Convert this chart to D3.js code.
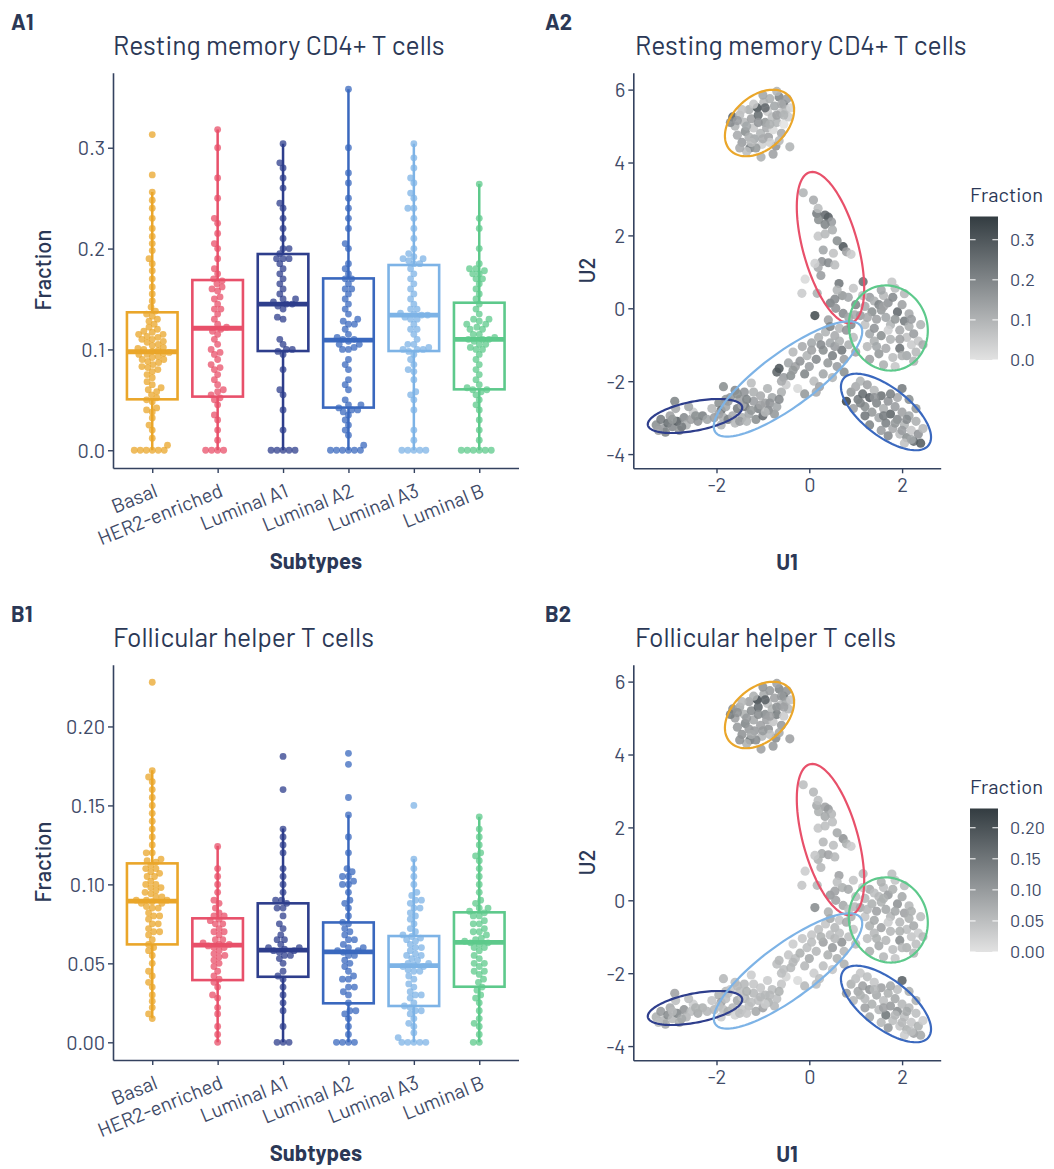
<!DOCTYPE html>
<html>
<head>
<meta charset="utf-8">
<script src="https://cdn.jsdelivr.net/npm/d3@7"></script>
<style>
  body { margin: 0; background: #ffffff; }
  svg text { font-family: 'Barlow', 'Roboto Condensed', 'Liberation Sans Narrow', 'Arial Narrow', 'DejaVu Sans Condensed', Roboto, sans-serif; }
</style>
</head>
<body>
<svg id="chart" width="1054" height="1169"></svg>
<script>
// ---------- categories and colours ----------
const subtypes = ["Basal", "HER2-enriched", "Luminal A1", "Luminal A2", "Luminal A3", "Luminal B"];
const subtypeColors = ["#EAA62A", "#E8506A", "#2E3E8C", "#3A68BE", "#7DB3E6", "#5DC98B"];

// ---------- box statistics: [lower whisker, Q1, median, Q3, upper whisker] ----------
const restingBoxStats = [
  [0, 0.0505, 0.0977, 0.1368, 0.256],
  [0, 0.0532, 0.1210, 0.1688, 0.318],
  [0, 0.0984, 0.1450, 0.1946, 0.304],
  [0, 0.0423, 0.1093, 0.1704, 0.358],
  [0, 0.0984, 0.1340, 0.1837, 0.304],
  [0, 0.0604, 0.1100, 0.1463, 0.264]
];
const tfhBoxStats = [
  [0.0152, 0.0620, 0.0894, 0.1133, 0.1723],
  [0, 0.0394, 0.0616, 0.0785, 0.1244],
  [0, 0.0415, 0.0584, 0.0880, 0.1354],
  [0, 0.0247, 0.0573, 0.0759, 0.1439],
  [0, 0.0230, 0.0485, 0.0673, 0.1160],
  [0, 0.0352, 0.0633, 0.0823, 0.1428]
];

// ---------- per-sample fractions: resting memory CD4+ T cells ----------
const restingBasal = [0,0,0,0,0,0,0.005,0.012,0.02,0.025,0.032,0.038,0.04,0.042,0.048,0.05,0.052,0.055,0.058,0.06,0.062,0.065,0.068,0.072,0.075,0.078,0.08,0.082,0.083,0.085,0.087,0.088,0.09,0.09,0.092,0.093,0.095,0.095,0.096,0.097,0.098,0.099,0.1,0.101,0.102,0.104,0.105,0.107,0.108,0.11,0.11,0.112,0.113,0.115,0.115,0.117,0.118,0.12,0.122,0.125,0.128,0.13,0.133,0.135,0.138,0.142,0.148,0.155,0.162,0.17,0.178,0.185,0.19,0.198,0.205,0.212,0.22,0.23,0.24,0.248,0.256,0.273,0.313];
const restingHER2 = [0,0,0,0,0.01,0.02,0.03,0.035,0.045,0.05,0.052,0.055,0.058,0.06,0.065,0.07,0.075,0.08,0.082,0.085,0.09,0.095,0.097,0.1,0.105,0.11,0.115,0.118,0.12,0.122,0.125,0.13,0.135,0.14,0.14,0.145,0.15,0.152,0.158,0.16,0.162,0.165,0.168,0.17,0.175,0.18,0.19,0.2,0.205,0.215,0.225,0.23,0.25,0.27,0.3,0.318];
const restingLumA1 = [0,0,0,0,0,0.02,0.04,0.055,0.06,0.08,0.095,0.098,0.1,0.1,0.105,0.11,0.13,0.132,0.14,0.143,0.145,0.145,0.147,0.15,0.15,0.155,0.16,0.165,0.17,0.175,0.18,0.185,0.19,0.19,0.19,0.195,0.2,0.2,0.21,0.22,0.23,0.24,0.245,0.26,0.27,0.28,0.285,0.304];
const restingLumA2 = [0,0,0,0,0,0,0.005,0.015,0.02,0.025,0.03,0.035,0.038,0.04,0.04,0.042,0.045,0.045,0.05,0.06,0.065,0.07,0.08,0.085,0.09,0.1,0.1,0.102,0.105,0.105,0.108,0.11,0.11,0.112,0.115,0.12,0.125,0.125,0.128,0.13,0.135,0.14,0.145,0.15,0.155,0.16,0.16,0.165,0.17,0.17,0.175,0.18,0.185,0.2,0.205,0.22,0.23,0.24,0.25,0.265,0.275,0.3,0.358];
const restingLumA3 = [0,0,0,0,0,0.01,0.02,0.04,0.05,0.055,0.058,0.07,0.078,0.08,0.085,0.09,0.095,0.098,0.1,0.1,0.1,0.102,0.105,0.105,0.11,0.115,0.12,0.12,0.125,0.13,0.13,0.132,0.134,0.134,0.135,0.136,0.14,0.14,0.145,0.15,0.155,0.16,0.165,0.17,0.175,0.18,0.185,0.185,0.188,0.19,0.19,0.192,0.195,0.2,0.21,0.22,0.23,0.24,0.24,0.25,0.255,0.265,0.27,0.28,0.29,0.304];
const restingLumB = [0,0,0,0,0,0,0.01,0.02,0.03,0.04,0.045,0.05,0.055,0.058,0.06,0.06,0.062,0.065,0.07,0.075,0.08,0.085,0.09,0.095,0.1,0.1,0.102,0.105,0.105,0.108,0.11,0.11,0.11,0.112,0.115,0.115,0.12,0.12,0.122,0.125,0.125,0.128,0.13,0.13,0.135,0.14,0.145,0.15,0.155,0.16,0.165,0.17,0.17,0.175,0.175,0.178,0.18,0.18,0.185,0.2,0.22,0.23,0.264];

// ---------- per-sample fractions: follicular helper T cells ----------
const tfhBasal = [0.015,0.018,0.022,0.026,0.03,0.035,0.038,0.042,0.045,0.05,0.055,0.058,0.06,0.062,0.065,0.068,0.07,0.07,0.072,0.075,0.075,0.078,0.08,0.08,0.082,0.085,0.085,0.086,0.088,0.088,0.089,0.09,0.09,0.09,0.092,0.092,0.094,0.095,0.096,0.098,0.098,0.1,0.1,0.102,0.105,0.105,0.107,0.108,0.11,0.11,0.112,0.114,0.115,0.116,0.12,0.12,0.125,0.13,0.135,0.14,0.145,0.15,0.155,0.16,0.165,0.168,0.172,0.228];
const tfhHER2 = [0,0.005,0.01,0.018,0.022,0.028,0.03,0.035,0.038,0.04,0.042,0.045,0.048,0.05,0.052,0.054,0.055,0.056,0.058,0.06,0.06,0.061,0.062,0.062,0.063,0.065,0.065,0.068,0.07,0.07,0.072,0.075,0.075,0.077,0.078,0.08,0.08,0.082,0.085,0.088,0.09,0.095,0.1,0.105,0.11,0.124];
const tfhLumA1 = [0,0,0,0.01,0.02,0.025,0.03,0.035,0.04,0.042,0.045,0.05,0.053,0.055,0.055,0.057,0.058,0.058,0.059,0.06,0.06,0.062,0.065,0.065,0.068,0.072,0.075,0.08,0.085,0.085,0.088,0.09,0.09,0.095,0.1,0.105,0.11,0.12,0.125,0.13,0.135,0.16,0.181];
const tfhLumA2 = [0,0,0,0,0.005,0.01,0.015,0.018,0.02,0.02,0.025,0.03,0.032,0.035,0.035,0.04,0.04,0.042,0.045,0.048,0.05,0.052,0.055,0.055,0.057,0.058,0.058,0.06,0.06,0.062,0.065,0.065,0.068,0.07,0.072,0.075,0.076,0.08,0.085,0.088,0.09,0.095,0.1,0.1,0.102,0.105,0.105,0.108,0.11,0.12,0.13,0.144,0.155,0.176,0.183];
const tfhLumA3 = [0,0,0,0,0,0.003,0.006,0.01,0.012,0.015,0.018,0.02,0.02,0.022,0.023,0.025,0.028,0.03,0.03,0.032,0.035,0.037,0.04,0.042,0.045,0.045,0.046,0.048,0.048,0.049,0.05,0.05,0.052,0.053,0.055,0.055,0.056,0.058,0.06,0.06,0.062,0.064,0.065,0.066,0.067,0.068,0.07,0.072,0.075,0.078,0.08,0.082,0.085,0.085,0.088,0.09,0.09,0.093,0.095,0.1,0.105,0.11,0.116,0.15];
const tfhLumB = [0,0,0.005,0.01,0.012,0.015,0.02,0.025,0.028,0.03,0.033,0.035,0.038,0.04,0.043,0.045,0.045,0.048,0.05,0.05,0.053,0.055,0.058,0.06,0.06,0.062,0.063,0.063,0.064,0.065,0.066,0.068,0.07,0.07,0.072,0.075,0.075,0.077,0.08,0.08,0.082,0.083,0.085,0.085,0.088,0.09,0.095,0.1,0.105,0.11,0.115,0.118,0.12,0.125,0.13,0.135,0.1428];

// ---------- UMAP embedding: [U1, U2, resting CD4 fraction, Tfh fraction] ----------
const umapBasal = [[-1.65,5.25,.28,.12],[-1.6,5.0,.10,.09],[-1.55,4.75,.12,.10],[-1.5,5.3,.08,.08],[-1.45,4.55,.15,.11],[-1.4,5.1,.09,.07],[-1.38,4.85,.18,.13],[-1.3,5.45,.11,.09],[-1.28,4.4,.22,.15],[-1.25,5.2,.14,.12],[-1.2,4.95,.06,.08],[-1.18,4.65,.13,.10],[-1.12,5.5,.31,.21],[-1.1,5.3,.25,.17],[-1.05,4.8,.10,.09],[-1.02,4.5,.04,.06],[-0.98,5.65,.09,.08],[-0.95,5.1,.16,.12],[-0.92,4.95,.12,.09],[-0.9,5.4,.05,.05],[-0.88,4.7,.14,.11],[-0.85,5.75,.11,.10],[-0.8,5.25,.08,.07],[-0.78,4.9,.02,.04],[-0.75,5.55,.13,.09],[-0.72,4.45,.17,.12],[-0.7,5.1,.10,.14],[-0.65,5.8,.20,.13],[-0.62,5.35,.07,.06],[-0.6,4.8,.12,.10],[-0.55,5.6,.23,.16],[-0.55,5.05,.0,.03],[-0.5,5.45,.09,.08],[-0.48,5.75,.15,.11],[-0.45,5.25,.05,.06],[-0.42,4.43,.10,.09],[-0.78,4.23,.14,.10],[-1.04,4.15,.11,.09],[-1.35,4.3,.08,.07],[-1.5,4.4,.12,.11],[-1.7,5.1,.19,.14],[-1.2,5.6,.06,.07],[-1.0,5.85,.13,.11],[-0.7,5.95,.10,.09],[-0.85,4.55,.04,.05],[-1.15,4.4,.16,.12],[-0.65,4.6,.09,.08],[-1.3,4.7,.11,.10],[-0.4,5.5,.03,.04],[-0.95,5.5,.26,.18],[-1.45,5.45,.07,.06],[-0.6,5.6,.12,.10],[-1.35,5.0,.13,.10],[-1.1,5.1,.17,.12],[-0.85,5.05,.11,.09],[-0.7,5.3,.14,.11],[-1.0,4.65,.12,.10],[-1.25,4.55,.09,.08],[-0.55,5.3,.10,.09],[-1.55,5.15,.15,.11]];
const umapHER2 = [[-0.13,3.17,.10,.05],[0.09,2.97,.12,.06],[0.16,2.6,.22,.08],[0.19,2.74,.08,.05],[0.34,2.56,.26,.09],[0.41,2.5,.28,.10],[0.2,2.43,.18,.07],[0.48,2.37,.15,.06],[0.34,2.3,.20,.08],[0.19,1.98,.06,.04],[0.34,2.04,.09,.05],[0.73,1.69,.30,.11],[0.8,1.55,.14,.07],[0.9,1.48,.05,.03],[0.52,1.51,.07,.05],[0.27,1.28,.17,.08],[0.41,1.25,.19,.09],[0.55,1.19,.08,.06],[0.19,1.12,.12,.07],[0.12,1.23,.04,.04],[-0.09,0.8,.02,.03],[0.64,0.68,.23,.09],[1.16,0.73,.25,.06],[-0.16,0.41,.05,.04],[0.17,0.41,.11,.06],[0.71,0.35,.16,.07],[0.84,0.3,.13,.08],[0.45,0.14,.21,.10],[0.57,0.0,.17,.09],[0.73,-0.14,.19,.08],[0.98,-0.18,.12,.06],[0.12,-0.2,.32,.12],[0.41,-0.32,.14,.07],[0.6,0.5,.10,.05],[0.95,0.55,.06,.04],[0.3,1.6,.13,.06],[0.6,1.85,.18,.08],[0.5,2.15,.11,.05],[0.25,0.9,.15,.06],[0.55,0.25,.19,.09]];
const umapLumA1 = [[-3.3,-3.2,.18,.07],[-3.2,-3.05,.22,.10],[-3.15,-3.3,.15,.06],[-3.05,-3.15,.25,.12],[-3.0,-2.95,.14,.08],[-2.95,-3.25,.19,.06],[-2.9,-2.55,.20,.09],[-2.88,-2.75,.12,.05],[-2.85,-3.1,.28,.13],[-2.8,-3.35,.16,.07],[-2.7,-3.0,.19,.11],[-2.65,-3.2,.10,.06],[-2.55,-3.05,.14,.05],[-2.5,-2.85,.05,.03],[-2.4,-3.1,.17,.08],[-2.3,-2.95,.21,.07],[-2.2,-3.05,.13,.06],[-2.1,-2.75,.09,.04],[-2.05,-3.0,.15,.06],[-1.95,-2.6,.18,.07],[-1.9,-2.8,.24,.09],[-1.85,-3.0,.11,.05],[-1.8,-2.5,.16,.06],[-2.6,-2.7,.13,.05],[-3.1,-3.4,.20,.08],[-2.75,-3.25,.22,.08],[-2.45,-2.95,.18,.07],[-2.95,-3.05,.16,.06],[-3.25,-3.35,.14,.05]];
const umapLumA2 = [[0.8,-2.55,.34,.10],[0.9,-2.3,.16,.07],[1.0,-2.15,.12,.05],[1.05,-2.5,.22,.08],[1.1,-2.0,.10,.04],[1.15,-2.35,.25,.09],[1.2,-2.7,.18,.06],[1.25,-2.1,.14,.05],[1.3,-2.45,.28,.11],[1.35,-2.85,.16,.07],[1.4,-2.25,.09,.04],[1.45,-2.6,.20,.08],[1.5,-3.0,.13,.06],[1.55,-2.4,.24,.09],[1.6,-2.75,.11,.05],[1.65,-3.15,.21,.15],[1.7,-2.55,.17,.07],[1.75,-2.9,.27,.10],[1.8,-3.3,.12,.05],[1.85,-2.7,.15,.08],[1.9,-3.05,.19,.12],[1.95,-3.45,.08,.04],[2.0,-2.2,.22,.18],[2.0,-2.85,.14,.06],[2.05,-3.2,.10,.05],[2.1,-3.55,.18,.07],[2.15,-2.95,.13,.06],[2.2,-3.35,.06,.04],[2.25,-3.65,.25,.09],[2.3,-3.1,.11,.05],[2.35,-3.45,.17,.07],[2.4,-3.7,.29,.08],[2.45,-3.3,.09,.03],[1.3,-3.2,.20,.08],[1.55,-3.35,.15,.06],[1.9,-2.45,.12,.05],[2.15,-2.5,.18,.07],[1.2,-2.95,.23,.09],[0.95,-2.75,.14,.06],[1.7,-3.5,.19,.10],[2.05,-3.7,.07,.03],[2.3,-2.75,.16,.07],[1.1,-2.6,.20,.07],[1.4,-2.45,.17,.06],[1.6,-2.95,.22,.09],[1.85,-3.15,.16,.06],[2.1,-3.05,.19,.08],[2.2,-3.6,.13,.05],[1.75,-2.35,.21,.08],[2.0,-3.35,.15,.06]];
const umapLumA3 = [[-1.95,-2.9,.14,.05],[-1.9,-3.2,.10,.03],[-1.85,-2.15,.18,.06],[-1.8,-2.7,.13,.05],[-1.75,-3.05,.20,.07],[-1.7,-2.45,.16,.04],[-1.65,-2.95,.12,.06],[-1.6,-2.25,.19,.05],[-1.6,-3.15,.09,.02],[-1.55,-2.75,.22,.08],[-1.5,-2.5,.14,.05],[-1.45,-3.0,.11,.04],[-1.4,-2.3,.17,.06],[-1.38,-2.7,.24,.07],[-1.3,-2.9,.13,.05],[-1.25,-2.05,.08,.03],[-1.2,-2.55,.15,.06],[-1.15,-3.05,.18,.08],[-1.1,-2.75,.21,.05],[-1.05,-2.4,.12,.04],[-1.0,-2.95,.26,.09],[-0.95,-2.6,.14,.06],[-0.9,-2.2,.10,.03],[-0.88,-2.8,.19,.07],[-0.8,-2.45,.13,.05],[-0.75,-2.9,.16,.06],[-0.7,-1.75,.27,.05],[-0.65,-1.65,.30,.06],[-0.6,-2.3,.11,.04],[-0.55,-1.9,.15,.05],[-0.5,-2.1,.05,.02],[-0.45,-1.5,.13,.04],[-0.4,-1.85,.18,.06],[-0.35,-1.2,.09,.03],[-0.3,-1.6,.14,.05],[-0.25,-2.2,.02,.01],[-0.2,-1.45,.17,.07],[-0.15,-1.05,.12,.04],[-0.1,-1.8,.20,.06],[-0.05,-1.3,.10,.05],[0.0,-1.6,.15,.08],[0.05,-0.95,.13,.04],[0.1,-2.0,.08,.03],[0.15,-1.4,.19,.06],[0.2,-0.8,.11,.05],[0.22,-2.15,.14,.05],[0.3,-1.15,.18,.09],[0.35,-0.65,.10,.04],[0.4,-1.5,.16,.07],[0.45,-0.95,.13,.05],[0.5,-1.3,.21,.10],[0.55,-0.75,.12,.06],[0.6,-1.6,.15,.07],[0.65,-0.55,.09,.04],[0.7,-1.15,.23,.11],[0.75,-1.4,.14,.06],[0.8,-0.6,.17,.08],[0.85,-1.0,.11,.05],[0.9,-0.45,.19,.07],[0.95,-0.8,.08,.04],[0.3,-1.8,.13,.05],[-0.1,-2.35,.16,.06],[0.5,-1.9,.10,.04],[0.15,-2.3,.12,.05],[0.75,-1.75,.18,.07],[1.0,-1.2,.14,.06],[-1.75,-2.55,.15,.05],[-1.55,-2.35,.18,.06],[-1.45,-2.65,.12,.04],[-1.35,-2.5,.20,.07],[-1.25,-2.8,.16,.05],[-1.2,-2.3,.11,.04],[-1.05,-2.65,.14,.06],[-0.95,-2.85,.09,.03],[-0.85,-2.6,.17,.06],[-0.7,-2.7,.13,.05],[-0.65,-2.5,.19,.07],[-1.5,-3.1,.15,.05],[-1.35,-3.1,.10,.04],[-0.6,-2.0,.12,.05],[-0.35,-1.7,.16,.06],[0.05,-1.15,.14,.05],[0.25,-1.0,.19,.07],[0.55,-1.05,.15,.06],[0.65,-0.9,.11,.05],[0.45,-0.5,.20,.08],[0.85,-0.25,.13,.05]];
const umapLumB = [[1.2,0.05,.12,.06],[1.3,0.3,.15,.08],[1.35,-0.1,.18,.07],[1.4,0.2,.11,.05],[1.45,-0.3,.14,.09],[1.5,0.1,.20,.06],[1.55,-0.05,.16,.07],[1.6,0.35,.09,.05],[1.65,-0.25,.13,.08],[1.7,0.15,.17,.10],[1.75,-0.45,.10,.06],[1.8,0.3,.19,.07],[1.85,0.55,.08,.04],[1.9,-0.1,.26,.11],[1.95,-0.6,.12,.06],[2.0,0.1,.14,.08],[2.05,-0.35,.22,.09],[2.1,-0.8,.07,.05],[2.15,-0.5,.11,.07],[2.2,-1.0,.05,.04],[2.25,-0.7,.15,.08],[2.3,-1.2,.09,.05],[2.35,-0.9,.06,.03],[2.25,-1.45,.10,.06],[2.1,-1.3,.13,.07],[1.95,-1.1,.24,.12],[1.8,-1.35,.08,.05],[1.65,-1.1,.12,.06],[1.5,-1.25,.16,.08],[1.4,-0.9,.11,.06],[1.3,-0.7,.13,.07],[1.2,-0.45,.07,.04],[1.1,-0.2,.15,.08],[1.25,-1.05,.09,.05],[1.55,-0.75,.18,.09],[1.75,-0.85,.10,.06],[1.95,-0.85,.14,.07],[1.85,-1.6,.06,.04],[1.6,-1.55,.11,.06],[2.05,0.4,.09,.05],[1.55,0.5,.13,.07],[1.4,-0.55,.17,.08],[1.7,-0.6,.04,.03],[2.15,-0.15,.12,.06],[1.0,0.1,.20,.05],[1.15,0.35,.08,.04],[1.3,-1.4,.14,.07],[2.4,-0.45,.10,.05],[1.78,0.72,.06,.05],[2.45,-1.0,.12,.06],[1.6,0.05,.14,.07],[1.85,-0.3,.16,.08],[2.0,-1.3,.11,.06],[1.45,-1.05,.13,.07],[2.2,-0.3,.15,.07],[1.25,-0.25,.12,.06]];

// ---------- 95% ellipses per subtype: centre and two conjugate semi-axes (data units) ----------
const ellipseCenters = [[-1.073,5.084],[0.457,1.668],[-2.463,-2.955],[1.653,-2.845],[-0.459,-1.940],[1.703,-0.540]];
const ellipseMajorAxes = [[0.640,0.735],[0.449,-2.063],[1.016,0.252],[0.917,-0.913],[1.562,1.465],[0.317,-1.109]];
const ellipseMinorAxes = [[0.382,-0.540],[-0.571,-0.202],[0.060,-0.393],[-0.319,-0.519],[0.345,-0.596],[-0.790,-0.366]];

// ---------- tick labels ----------
const restingTicks = [0, 0.1, 0.2, 0.3];
const tfhTicks = [0, 0.05, 0.10, 0.15, 0.20];
const umapXTicks = [-2, 0, 2];
const umapYTicks = [-4, -2, 0, 2, 4, 6];

// ---------- styling ----------
const INK = "#2b3856";
const TICK_INK = "#3f4b68";
const AXIS = "#34425f";
const SHADE_LOW = "#e2e2e2", SHADE_HIGH = "#333c41";

const svg = d3.select("#chart");

function styleAxis(g) {
  g.select(".domain").attr("stroke", AXIS).attr("stroke-width", 1.6);
  g.selectAll(".tick line").attr("stroke", AXIS).attr("stroke-width", 1.4);
  g.selectAll(".tick text").attr("fill", TICK_INK).style("font-size", "20px");
}

// simple swarm layout: each value takes the free horizontal slot nearest the centre
function beeswarm(values, y, D) {
  const items = values.map(v => ({ v, py: y(v), dx: 0 })).sort((a, b) => a.v - b.v);
  const placed = [];
  for (const it of items) {
    const near = placed.filter(p => Math.abs(p.py - it.py) < D);
    const cands = [0];
    for (const p of near) {
      const w = Math.sqrt(D * D - (p.py - it.py) ** 2);
      cands.push(p.dx - w, p.dx + w);
    }
    cands.sort((a, b) => Math.abs(a) - Math.abs(b) || a - b);
    for (const c of cands) {
      if (near.every(p => (p.dx - c) ** 2 + (p.py - it.py) ** 2 >= D * D - 0.01)) { it.dx = c; break; }
    }
    placed.push(it);
  }
  return items;
}

function drawBoxPanel(g, cfg) {
  const x = d3.scalePoint().domain(subtypes).range([113, 518.5]).padding(0.6);
  const y = d3.scaleLinear().domain(cfg.yDomain).range([468, 72.7]);

  const gy = g.append("g").attr("transform", "translate(113,0)")
    .call(d3.axisLeft(y).tickValues(cfg.ticks).tickFormat(cfg.fmt).tickSize(5).tickSizeOuter(0).tickPadding(3));
  styleAxis(gy);
  gy.selectAll(".tick text").attr("dy", "0.36em");

  const gx = g.append("g").attr("transform", "translate(0,468)")
    .call(d3.axisBottom(x).tickSize(5).tickSizeOuter(0));
  styleAxis(gx);
  gx.selectAll(".tick text")
    .attr("x", 0).attr("y", 0).attr("dy", 0)
    .attr("text-anchor", "end")
    .attr("transform", "translate(6,28) rotate(-22)");

  const halfW = 25.3;
  subtypes.forEach((s, i) => {
    const cx = x(s), st = cfg.stats[i], col = subtypeColors[i];
    const bg = g.append("g");
    bg.append("line").attr("x1", cx).attr("x2", cx).attr("y1", y(st[0])).attr("y2", y(st[4]))
      .attr("stroke", col).attr("stroke-width", 2.5);
    bg.append("rect").attr("x", cx - halfW).attr("width", 2 * halfW)
      .attr("y", y(st[3])).attr("height", y(st[1]) - y(st[3]))
      .attr("fill", "#fff").attr("stroke", col).attr("stroke-width", 2.6);
    bg.append("line").attr("x1", cx - halfW).attr("x2", cx + halfW).attr("y1", y(st[2])).attr("y2", y(st[2]))
      .attr("stroke", col).attr("stroke-width", 4.8);
    const pts = beeswarm(cfg.values[i], y, 6);
    bg.selectAll("circle").data(pts).join("circle")
      .attr("cx", d => cx + d.dx).attr("cy", d => d.py).attr("r", 3.4)
      .attr("fill", col).attr("fill-opacity", 0.75);
  });

  g.append("text").attr("x", 113).attr("y", 55).attr("fill", INK)
    .style("font-size", "26.5px").text(cfg.title);
  g.append("text").attr("transform", "translate(43,270) rotate(-90)").attr("text-anchor", "middle")
    .attr("dy", "0.35em").attr("fill", INK).style("font-size", "22px").style("font-weight", 500).text("Fraction");
  g.append("text").attr("x", 315.8).attr("y", 569).attr("text-anchor", "middle")
    .attr("fill", INK).style("font-size", "22px").style("font-weight", 700).text("Subtypes");
  g.append("text").attr("x", 11).attr("y", 30).attr("fill", INK)
    .style("font-size", "22px").style("font-weight", 700).text(cfg.tag);
}

function drawUmapPanel(g, cfg) {
  const x = d3.scaleLinear().domain([-3.793, 2.832]).range([633.3, 940.7]);
  const y = d3.scaleLinear().domain([-4.39, 6.464]).range([468.3, 72.7]);
  const shade = d3.scaleLinear().domain([0, cfg.max]).range([SHADE_LOW, SHADE_HIGH]).clamp(true);

  const gy = g.append("g").attr("transform", "translate(633.3,0)")
    .call(d3.axisLeft(y).tickValues(umapYTicks).tickFormat(d => String(d)).tickSize(5).tickSizeOuter(0).tickPadding(3));
  styleAxis(gy);
  gy.selectAll(".tick text").attr("dy", "0.36em");
  const gx = g.append("g").attr("transform", "translate(0,468.3)")
    .call(d3.axisBottom(x).tickValues(umapXTicks).tickFormat(d => String(d)).tickSize(5).tickSizeOuter(0).tickPadding(5));
  styleAxis(gx);

  const clusters = [umapBasal, umapHER2, umapLumA1, umapLumA2, umapLumA3, umapLumB];
  const all = clusters.flat();
  g.append("g").selectAll("circle").data(all).join("circle")
    .attr("cx", d => x(d[0])).attr("cy", d => y(d[1])).attr("r", 4.6)
    .attr("fill", d => shade(d[cfg.col])).attr("fill-opacity", 0.88);

  const line = d3.line().curve(d3.curveLinearClosed);
  const ts = d3.range(0, 2 * Math.PI, Math.PI / 60);
  subtypes.forEach((s, i) => {
    const c = ellipseCenters[i], a = ellipseMajorAxes[i], b = ellipseMinorAxes[i];
    const pts = ts.map(t => [x(c[0] + a[0] * Math.cos(t) + b[0] * Math.sin(t)),
                             y(c[1] + a[1] * Math.cos(t) + b[1] * Math.sin(t))]);
    g.append("path").attr("d", line(pts)).attr("fill", "none")
      .attr("stroke", subtypeColors[i]).attr("stroke-width", 2.2);
  });

  // colour bar legend
  const gradId = "grad" + cfg.tag;
  const lg = svg.select("defs").append("linearGradient").attr("id", gradId)
    .attr("x1", 0).attr("y1", 1).attr("x2", 0).attr("y2", 0);
  lg.append("stop").attr("offset", "0%").attr("stop-color", SHADE_LOW);
  lg.append("stop").attr("offset", "100%").attr("stop-color", SHADE_HIGH);
  const barTop = 216.5, barBot = 360, barX = 970, barW = 28;
  const ly = d3.scaleLinear().domain([0, cfg.max]).range([barBot, barTop]);
  g.append("rect").attr("x", barX).attr("y", barTop).attr("width", barW).attr("height", barBot - barTop)
    .attr("fill", `url(#${gradId})`);
  cfg.legendTicks.forEach(v => {
    g.append("line").attr("x1", barX).attr("x2", barX + 5.6).attr("y1", ly(v)).attr("y2", ly(v))
      .attr("stroke", "#fff").attr("stroke-width", 1);
    g.append("line").attr("x1", barX + barW - 5.6).attr("x2", barX + barW).attr("y1", ly(v)).attr("y2", ly(v))
      .attr("stroke", "#fff").attr("stroke-width", 1);
    g.append("text").attr("x", 1010).attr("y", ly(v)).attr("dy", "0.36em").attr("fill", TICK_INK)
      .style("font-size", "18px").text(cfg.legendFmt(v));
  });
  g.append("text").attr("x", 970).attr("y", 201.5).attr("fill", INK).style("font-size", "20px").text("Fraction");

  g.append("text").attr("x", 635).attr("y", 55).attr("fill", INK).style("font-size", "26.5px").text(cfg.title);
  g.append("text").attr("transform", "translate(587,270.5) rotate(-90)").attr("text-anchor", "middle")
    .attr("dy", "0.35em").attr("fill", INK).style("font-size", "22px").style("font-weight", 500).text("U2");
  g.append("text").attr("x", 787).attr("y", 570).attr("text-anchor", "middle")
    .attr("fill", INK).style("font-size", "22px").style("font-weight", 700).text("U1");
  g.append("text").attr("x", 545).attr("y", 30).attr("fill", INK)
    .style("font-size", "22px").style("font-weight", 700).text(cfg.tag);
}

svg.append("defs");
const rowA = svg.append("g");
const rowB = svg.append("g").attr("transform", "translate(0,592)");

drawBoxPanel(rowA, {
  tag: "A1", title: "Resting memory CD4+ T cells",
  yDomain: [-0.0176, 0.3744], ticks: restingTicks, fmt: d3.format(".1f"),
  stats: restingBoxStats,
  values: [restingBasal, restingHER2, restingLumA1, restingLumA2, restingLumA3, restingLumB]
});
drawUmapPanel(rowA, {
  tag: "A2", title: "Resting memory CD4+ T cells", col: 2, max: 0.358,
  legendTicks: [0, 0.1, 0.2, 0.3], legendFmt: d3.format(".1f")
});
drawBoxPanel(rowB, {
  tag: "B1", title: "Follicular helper T cells",
  yDomain: [-0.0112, 0.2391], ticks: tfhTicks, fmt: d3.format(".2f"),
  stats: tfhBoxStats,
  values: [tfhBasal, tfhHER2, tfhLumA1, tfhLumA2, tfhLumA3, tfhLumB]
});
drawUmapPanel(rowB, {
  tag: "B2", title: "Follicular helper T cells", col: 3, max: 0.231,
  legendTicks: [0, 0.05, 0.10, 0.15, 0.20], legendFmt: d3.format(".2f")
});
</script>
</body>
</html>
